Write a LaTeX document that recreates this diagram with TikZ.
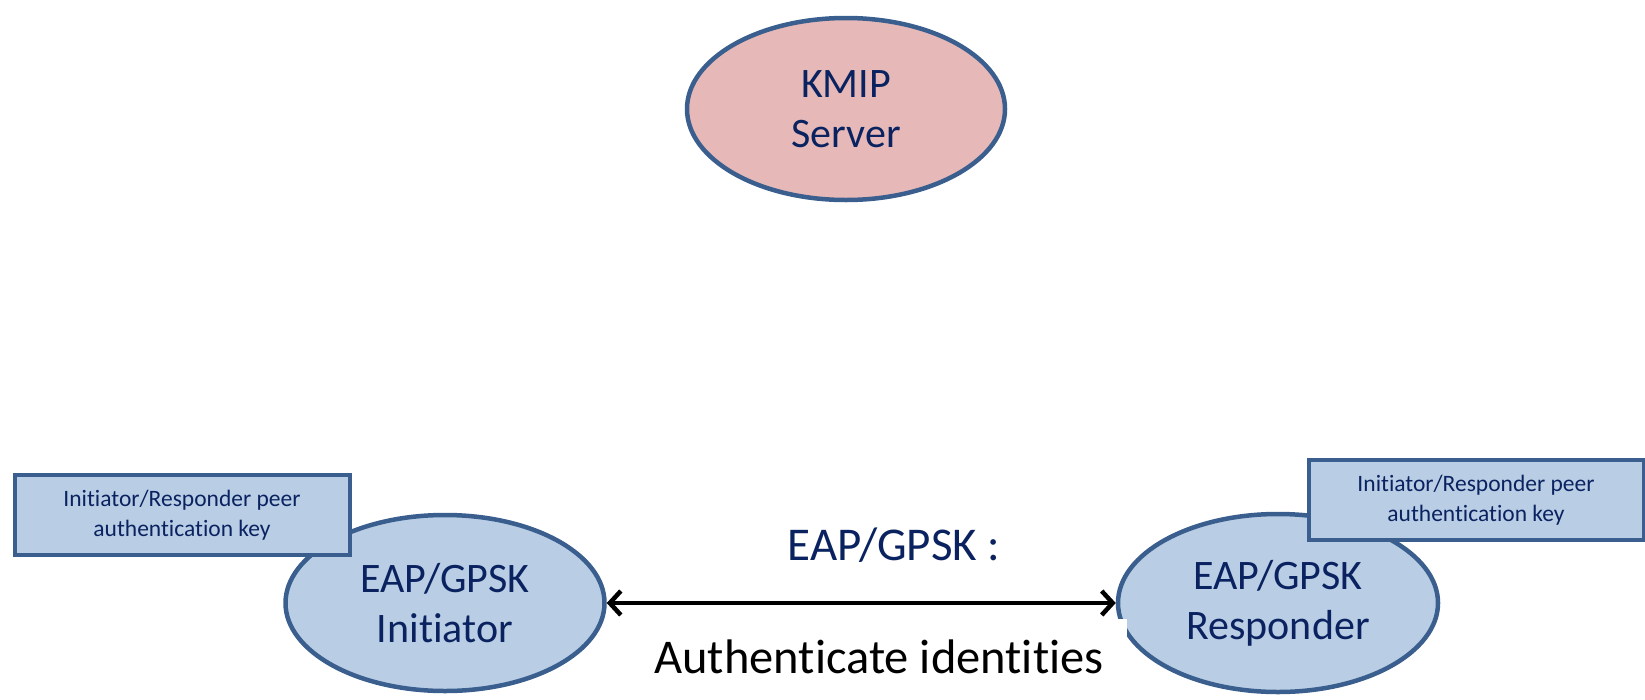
\documentclass[tikz,border=0pt]{standalone}
\usepackage{fontspec}
\setmainfont{Carlito}[Ligatures=NoCommon]
\usetikzlibrary{shapes.geometric,arrows.meta}
\definecolor{edgeblue}{HTML}{3A5F8E}
\definecolor{fillblue}{HTML}{B9CDE5}
\definecolor{fillpink}{HTML}{E6B9B8}
\definecolor{navytext}{HTML}{0A2360}
\tikzset{
  entity/.style={ellipse, draw=edgeblue, line width=4.5pt, inner sep=0pt,
    text=navytext, align=center, font=\fontsize{42}{50}\selectfont},
  keybox/.style={rectangle, draw=edgeblue, line width=4pt, fill=fillblue,
    inner sep=0pt, minimum width=335pt, minimum height=80pt, text=navytext,
    align=center, font=\fontsize{23.5}{30}\selectfont},
  link/.style={line width=4.5pt, {Straight Barb[length=11pt,width=24pt]}-{Straight Barb[length=11pt,width=24pt]}}
}
\begin{document}
\begin{tikzpicture}[x=1pt,y=-1pt]
\useasboundingbox (0,0) rectangle (1645,699);

% KMIP server at the top
\node[entity, fill=fillpink, minimum width=318pt, minimum height=182pt] (kmip) at (846,109) {KMIP\\Server};

% the two EAP/GPSK peers
\node[entity, fill=fillblue, minimum width=319pt, minimum height=176pt] (ini) at (445,603) {EAP/GPSK\\Initiator};
\node[entity, fill=fillblue, minimum width=320pt, minimum height=178pt] (resp) at (1278,603) {EAP/GPSK\\Responder};

% peer authentication key boxes
\node[keybox] (kl) at (182,515) {Initiator/Responder peer\\authentication key};
\node[keybox] (kr) at (1476,500) {Initiator/Responder peer\\authentication key};

% exchange label below the link
\node[fill=white, inner sep=0pt, minimum width=496pt, minimum height=76pt,
      font=\fontsize{48.5}{58}\selectfont] (auth) at (879,657) {Authenticate identities};

% authentication exchange between the peers
\draw[link] (ini.east) -- (resp.west);
\node[text=navytext, font=\fontsize{47}{56}\selectfont, inner sep=0pt] (lbl) at (894,545) {EAP/GPSK :};
\end{tikzpicture}
\end{document}
